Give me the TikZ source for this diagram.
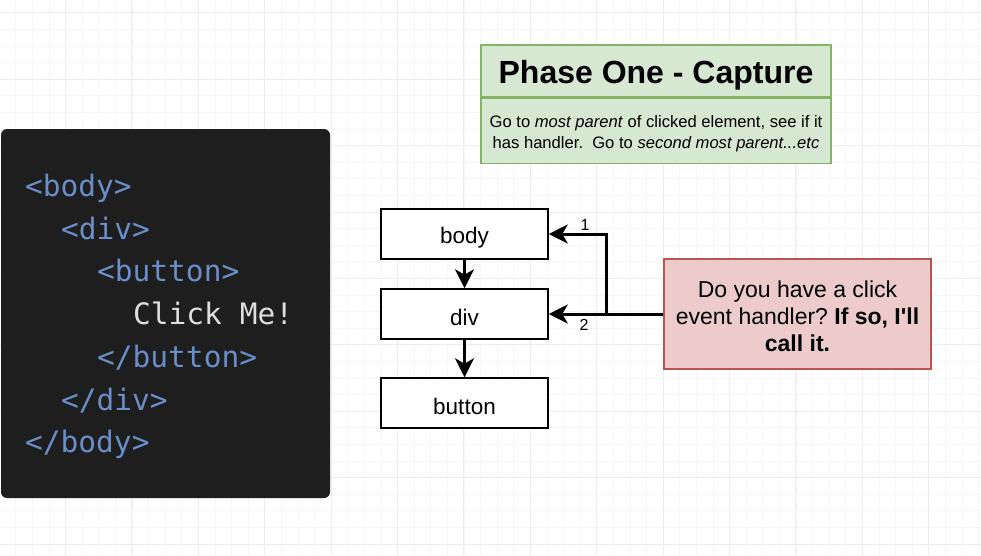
\documentclass[tikz,border=0pt]{standalone}
\usepackage{fontspec}
\setmainfont{Liberation Sans}
\newfontfamily\codefont{DejaVu Sans Mono}
\usetikzlibrary{arrows.meta}
\definecolor{gridminor}{RGB}{246,246,246}
\definecolor{gridmajor}{RGB}{236,236,236}
\definecolor{panelbg}{RGB}{30,30,30}
\definecolor{codeblue}{RGB}{106,142,200}
\definecolor{codegray}{RGB}{222,222,222}
\definecolor{greenfill}{RGB}{214,231,210}
\definecolor{greenline}{RGB}{130,179,102}
\definecolor{pinkfill}{RGB}{238,203,203}
\definecolor{pinkline}{RGB}{184,84,80}
\frenchspacing
\tikzset{
  elembox/.style={draw=black, line width=1.5pt, fill=white, minimum width=167pt, minimum height=50pt, inner sep=0pt},
  boxtext/.style={inner sep=0pt, font=\fontsize{22.5}{26}\selectfont},
  arr/.style={draw=black, line width=3pt, -{Stealth[length=19pt,width=19pt,inset=5.5pt]}},
  codeline/.style={anchor=base west, inner sep=0pt, font=\codefont\fontsize{29.5}{34}\selectfont, text=codeblue},
  numlabel/.style={inner sep=0pt, font=\fontsize{16}{19}\selectfont}
}
\begin{document}
\begin{tikzpicture}[x=1pt,y=-1pt]
\useasboundingbox (0,0) rectangle (981,555);
\fill[white] (0,0) rectangle (981,555);
% grid
\foreach \i in {0,...,60} {
  \draw[gridminor, line width=0.8pt] ({-0.9+16.6*\i},0) -- ({-0.9+16.6*\i},555);
}
\foreach \i in {0,...,34} {
  \draw[gridminor, line width=0.8pt] (0,{12.8+16.6*\i}) -- (981,{12.8+16.6*\i});
}
\foreach \i in {0,...,15} {
  \draw[gridmajor, line width=0.9pt] ({-0.9+66.4*\i},0) -- ({-0.9+66.4*\i},555);
}
\foreach \i in {0,...,8} {
  \draw[gridmajor, line width=0.9pt] (0,{12.8+66.4*\i}) -- (981,{12.8+66.4*\i});
}
% code panel
\fill[panelbg, rounded corners=6pt] (1,129) rectangle (330,498);
\node[codeline] (c1) at (25,196) {<body>};
\node[codeline] (c2) at (61,239) {<div>};
\node[codeline] (c3) at (97,281) {<button>};
\node[codeline, text=codegray] (c4) at (133,324) {Click Me!};
\node[codeline] (c5) at (97,367) {</button>};
\node[codeline] (c6) at (61,410) {</div>};
\node[codeline] (c7) at (25,452) {</body>};
% phase box
\node[draw=greenline, fill=greenfill, line width=1.5pt, minimum width=350pt, minimum height=52pt, inner sep=0pt] (title) at (656,71) {};
\node[inner sep=0pt, font=\bfseries\fontsize{32}{36}\selectfont] (titletext) at (656,75) {Phase One - Capture};
\node[draw=greenline, fill=greenfill, line width=1.5pt, minimum width=350pt, minimum height=65pt, inner sep=0pt, anchor=north] (desc) at (title.south) {};
\node[inner sep=0pt, align=center, font=\fontsize{16.6}{21}\selectfont] (desctext) at ([yshift=-3pt]desc.center) {Go to \textit{most parent} of clicked element, see if it\\has handler.\ \ Go to \textit{second most parent...etc}};
% element boxes
\node[elembox] (body) at (464.5,234) {};
\node[elembox] (div) at (464.5,314) {};
\node[elembox] (button) at (464.5,403) {};
\node[boxtext] (bodyt) at ([yshift=-3.5pt]body.center) {body};
\node[boxtext] (divt) at ([yshift=-3.5pt]div.center) {div};
\node[boxtext] (buttont) at ([yshift=-3.5pt]button.center) {button};
\draw[arr] (body) -- (div);
\draw[arr] (div) -- (button);
% question box
\node[draw=pinkline, fill=pinkfill, line width=1.5pt, minimum width=267pt, minimum height=110pt, inner sep=0pt] (ask) at (797.5,314) {};
\node[inner sep=0pt, align=center, font=\fontsize{23}{27}\selectfont] (asktext) at (797.5,316.5) {Do you have a click\\event handler? \textbf{If so, I\textquotesingle ll}\\\textbf{call it.}};
\coordinate (j) at (606,314);
\draw[arr] (ask.west) -- (div.east);
\draw[arr] (j) |- (body.east);
\node[numlabel] (n1) at (585,225) {1};
\node[numlabel] (n2) at (584,325) {2};
\end{tikzpicture}
\end{document}
